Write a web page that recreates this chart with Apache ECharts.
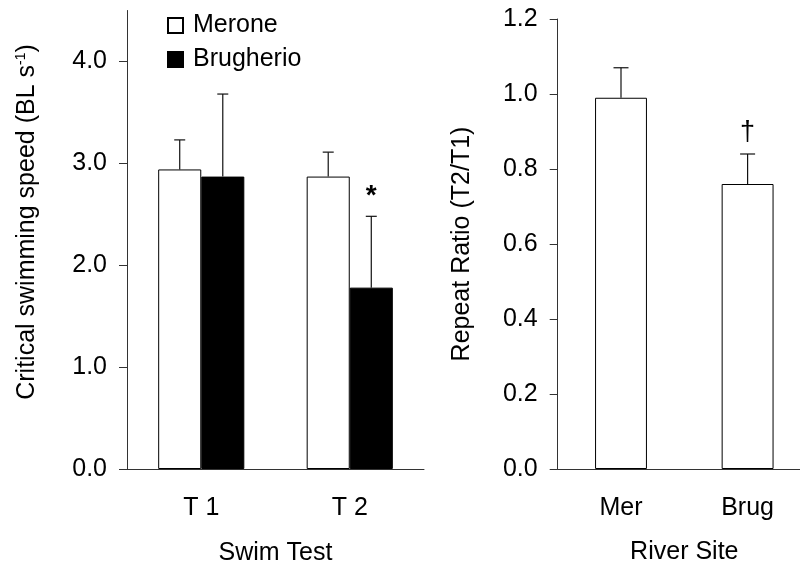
<!DOCTYPE html>
<html>
<head>
<meta charset="utf-8">
<script src="https://cdn.jsdelivr.net/npm/echarts@6/dist/echarts.min.js"></script>
<style>html,body{margin:0;padding:0;background:#fff}#c{width:800px;height:565px}</style>
</head>
<body>
<div id="c"></div>
<script>
// ---- data ----
const swimCategories = ['T 1', 'T 2'];
const meroneMean = [2.94, 2.87];
const meroneErr = [0.29, 0.24];
const brugMean = [2.87, 1.78];
const brugErr = [0.81, 0.70];
const meroneMarks = ['', ''];
const brugMarks = ['', '*'];
const swimYTicks = [0, 1, 2, 3, 4];

const siteCategories = ['Mer', 'Brug'];
const ratioMean = [0.99, 0.76];
const ratioErr = [0.08, 0.08];
const ratioMarks = ['', '\u2020'];
const ratioYTicks = [0, 0.2, 0.4, 0.6, 0.8, 1.0, 1.2];

// ---- chart ----
const FONT = 'Liberation Sans, Arial, sans-serif';
const FS = 25;
const chart = echarts.init(document.getElementById('c'), null, {renderer: 'canvas'});

function errSeries(name, xIdx, mean, err, marks, offsetFactor, capW) {
  return {
    type: 'custom',
    name: name + '_err',
    xAxisIndex: xIdx, yAxisIndex: xIdx,
    silent: true, z: 5,
    data: mean.map((m, i) => [i, m, err[i]]),
    renderItem: function (params, api) {
      const i = api.value(0), m = api.value(1), e = api.value(2);
      const bw = api.size([1, 0])[0];
      const dx = bw * offsetFactor;
      const p0 = api.coord([i, m]);
      const p1 = api.coord([i, m + e]);
      const x = p0[0] + dx;
      const children = [
        {type: 'line', shape: {x1: x, y1: p0[1], x2: x, y2: p1[1]}, style: {stroke: '#111', lineWidth: 1.2}},
        {type: 'line', shape: {x1: x - capW / 2, y1: p1[1], x2: x + capW / 2, y2: p1[1]}, style: {stroke: '#111', lineWidth: 1.2}}
      ];
      const mark = marks[params.dataIndex];
      if (mark) {
        children.push({type: 'text', x: x, y: p1[1] - (mark === '*' ? 20 : 21),
          style: {text: mark, fontSize: mark === '*' ? 28 : 27, fontWeight: mark === '*' ? 'bold' : 'normal',
                  fontFamily: FONT, fill: '#000', align: 'center', verticalAlign: 'middle'}});
      }
      return {type: 'group', children: children};
    }
  };
}

const axisLineStyle = {color: '#333', width: 1};
const labelStyle = {fontSize: FS, color: '#000', fontFamily: FONT};
const nameStyle = {fontSize: FS, color: '#000', fontFamily: FONT};

const option = {
  animation: false,
  backgroundColor: '#fff',
  textStyle: {fontFamily: FONT},
  legend: {
    data: ['Merone', 'Brugherio'],
    orient: 'vertical', left: 167, top: 13, padding: 0,
    itemWidth: 15, itemHeight: 15, itemGap: 9,
    icon: 'rect',
    textStyle: {fontSize: FS, color: '#000', fontFamily: FONT, lineHeight: 25, padding: [0, 0, 0, 5]}
  },
  grid: [
    {left: 127, top: 10.5, width: 297, height: 458.5, outerBoundsMode: 'none', containLabel: false},
    {left: 557.7, top: 19, width: 253.2, height: 450, outerBoundsMode: 'none', containLabel: false}
  ],
  xAxis: [
    {type: 'category', gridIndex: 0, data: swimCategories,
     name: 'Swim Test', nameLocation: 'middle', nameGap: 72,
     nameTextStyle: nameStyle,
     axisLine: {lineStyle: axisLineStyle}, axisTick: {length: 8, lineStyle: axisLineStyle},
     axisLabel: Object.assign({margin: 27}, labelStyle)},
    {type: 'category', gridIndex: 1, data: siteCategories,
     name: 'River Site', nameLocation: 'middle', nameGap: 71,
     nameTextStyle: nameStyle,
     axisLine: {lineStyle: axisLineStyle}, axisTick: {length: 8, lineStyle: axisLineStyle},
     axisLabel: Object.assign({margin: 27}, labelStyle)}
  ],
  yAxis: [
    {type: 'value', gridIndex: 0, min: 0, max: 4.5, interval: 1,
     splitLine: {show: false},
     axisLine: {show: true, lineStyle: axisLineStyle},
     axisTick: {show: true, length: 8, lineStyle: axisLineStyle, customValues: swimYTicks},
     axisLabel: Object.assign({margin: 20, customValues: swimYTicks, formatter: v => Number(v).toFixed(1)}, labelStyle)},
    {type: 'value', gridIndex: 1, min: 0, max: 1.2, interval: 0.2,
     name: 'Repeat Ratio (T2/T1)', nameLocation: 'middle', nameGap: 83, nameRotate: 90,
     nameTextStyle: nameStyle,
     splitLine: {show: false},
     axisLine: {show: true, lineStyle: axisLineStyle},
     axisTick: {show: true, length: 8, lineStyle: axisLineStyle, customValues: ratioYTicks},
     axisLabel: Object.assign({margin: 20, customValues: ratioYTicks, formatter: v => Number(v).toFixed(1)}, labelStyle)}
  ],
  graphic: [{
    type: 'text', x: 27, y: 222, rotation: Math.PI / 2,
    style: {
      text: 'Critical swimming speed (BL s{sup|-1})',
      fontSize: FS, fontFamily: FONT, fill: '#000',
      align: 'center', verticalAlign: 'middle',
      rich: {sup: {fontSize: 14, fontFamily: FONT, fill: '#000', verticalAlign: 'top', lineHeight: 14}}
    }
  }],
  series: [
    {type: 'bar', name: 'Merone', xAxisIndex: 0, yAxisIndex: 0, data: meroneMean,
     barGap: '0%', barCategoryGap: '42%',
     itemStyle: {color: '#fff', borderColor: '#000', borderWidth: 1}},
    {type: 'bar', name: 'Brugherio', xAxisIndex: 0, yAxisIndex: 0, data: brugMean,
     barGap: '0%', barCategoryGap: '42%',
     itemStyle: {color: '#000', borderColor: '#000', borderWidth: 1}},
    errSeries('Merone', 0, meroneMean, meroneErr, meroneMarks, -0.145, 11),
    errSeries('Brugherio', 0, brugMean, brugErr, brugMarks, 0.145, 11),
    {type: 'bar', name: 'Ratio', xAxisIndex: 1, yAxisIndex: 1, data: ratioMean,
     barWidth: '41%',
     itemStyle: {color: '#fff', borderColor: '#000', borderWidth: 1}},
    errSeries('Ratio', 1, ratioMean, ratioErr, ratioMarks, 0, 15)
  ]
};
chart.setOption(option);
</script>
</body>
</html>
